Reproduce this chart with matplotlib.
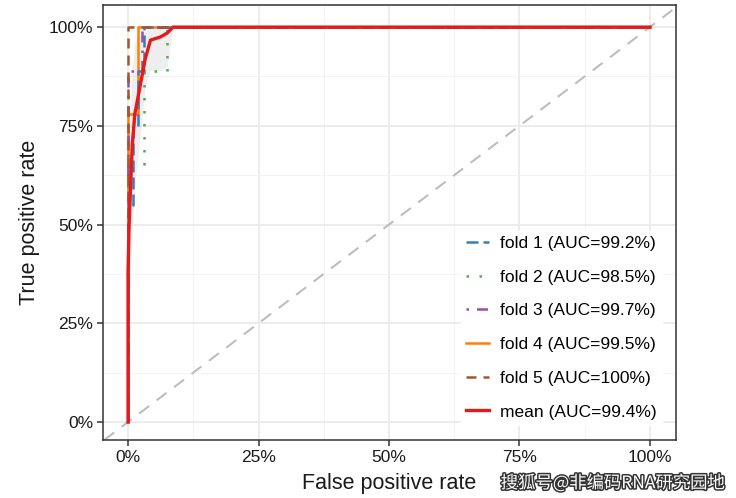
import matplotlib
matplotlib.use("Agg")
import matplotlib.pyplot as plt
import matplotlib.patheffects as pe
import numpy as np

plt.rcParams['font.family'] = ['Liberation Sans', 'DejaVu Sans']

# ---- data ----
fold_labels = ["fold 1 (AUC=99.2%)", "fold 2 (AUC=98.5%)", "fold 3 (AUC=99.7%)",
               "fold 4 (AUC=99.5%)", "fold 5 (AUC=100%)"]
fold1_fpr = [0, 0, 0.01, 0.01, 0.02, 0.02, 0.03, 0.03, 1]
fold1_tpr = [0, 0.55, 0.55, 0.75, 0.75, 0.89, 0.89, 1, 1]
fold2_fpr = [0, 0, 0.03, 0.03, 0.075, 0.075, 1]
fold2_tpr = [0, 0.65, 0.65, 0.89, 0.89, 1, 1]
fold3_fpr = [0, 0, 0.027, 0.027, 1]
fold3_tpr = [0, 0.89, 0.89, 1, 1]
fold4_fpr = [0, 0, 0.02, 0.02, 1]
fold4_tpr = [0, 0.78, 0.78, 1, 1]
fold5_fpr = [0, 0, 1]
fold5_tpr = [0, 1, 1]

mean_label = "mean (AUC=99.4%)"
mean_fpr = [0, 0, 0.002, 0.005, 0.008, 0.013, 0.023, 0.033, 0.043, 0.062, 0.075, 0.086, 1.0]
mean_tpr = [0, 0.38, 0.50, 0.60, 0.70, 0.78, 0.85, 0.92, 0.967, 0.975, 0.985, 1.0, 1.0]
ribbon_lo = [0, 0.20, 0.30, 0.40, 0.50, 0.60, 0.72, 0.85, 0.89, 0.89, 0.90, 1.0, 1.0]
ribbon_hi = [0, 0.56, 0.70, 0.80, 0.90, 0.96, 0.98, 0.99, 1.0, 1.0, 1.0, 1.0, 1.0]

ticks = [0, 0.25, 0.5, 0.75, 1.0]
tick_labels = ["0%", "25%", "50%", "75%", "100%"]

colors = ["#377EB8", "#4DAF4A", "#984EA3", "#FF7F00", "#A65628"]
mean_color = "#E41A1C"
styles = [(0, (4.8, 2.0)), (0, (1.0, 4.2)), (0, (1.0, 3.2, 4.4, 3.2)), "-", (0, (4.0, 2.8))]

fig = plt.figure(figsize=(7.36, 4.98), dpi=100)
ax = fig.add_axes([103/736, 1-440/498, (676-103)/736, (440-5)/498])

ax.set_xlim(-0.048, 1.05)
ax.set_ylim(-0.0456, 1.056)

ax.set_xticks(ticks)
ax.set_xticklabels(tick_labels)
ax.set_yticks(ticks)
ax.set_yticklabels(tick_labels)
ax.set_xticks([0.125, 0.375, 0.625, 0.875], minor=True)
ax.set_yticks([0.125, 0.375, 0.625, 0.875], minor=True)
ax.grid(which='major', color='#EBEBEB', lw=1.3, zorder=0)
ax.grid(which='minor', color='#F3F3F3', lw=0.7, zorder=0)
ax.set_axisbelow(True)
ax.tick_params(which='major', direction='out', length=4, width=1.1, color='#333333',
               labelsize=12.5, labelcolor='#1a1a1a', pad=3)
ax.tick_params(which='minor', length=0)
for s in ax.spines.values():
    s.set_color('#333333')
    s.set_linewidth(1.1)

ax.axline((0, 0), (1, 1), color='#BDBDBD', lw=1.5, ls=(0, (6, 4.5)), zorder=1)

ax.fill_between(mean_fpr, ribbon_lo, ribbon_hi, color='#D0D0D0', alpha=0.35, lw=0, zorder=1.5)

fprs = [fold1_fpr, fold2_fpr, fold3_fpr, fold4_fpr, fold5_fpr]
tprs = [fold1_tpr, fold2_tpr, fold3_tpr, fold4_tpr, fold5_tpr]
order = [3, 0, 1, 2, 4]
handles = [None]*5
for i in order:
    h, = ax.plot(fprs[i], tprs[i], color=colors[i], ls=styles[i], lw=1.8, zorder=2,
                 label=fold_labels[i])
    handles[i] = h
hm, = ax.plot(mean_fpr, mean_tpr, color=mean_color, lw=2.4, zorder=3, label=mean_label,
              solid_joinstyle='round')

leg = ax.legend(handles + [hm], fold_labels + [mean_label], loc='lower right',
                bbox_to_anchor=(0.975, 0.035), fontsize=12.5, frameon=True,
                fancybox=False, handlelength=1.35, handletextpad=0.6,
                labelspacing=1.07, borderpad=0.3, borderaxespad=0)
leg.get_frame().set_facecolor('white')
leg.get_frame().set_edgecolor('white')
leg.get_frame().set_alpha(1)

ax.set_xlabel("False positive rate", fontsize=15.5, color='#1a1a1a', labelpad=6)
ax.set_ylabel("True positive rate", fontsize=15.5, color='#1a1a1a', labelpad=6)

fig.text(0.985, 0.03, "搜狐号@非编码RNA研究园地", ha='right', va='center',
         fontsize=12.5, color='white', family=['Noto Sans CJK SC', 'DejaVu Sans'],
         path_effects=[pe.withStroke(linewidth=2.2, foreground='#333333')])

fig.savefig("out.png", dpi=100)
